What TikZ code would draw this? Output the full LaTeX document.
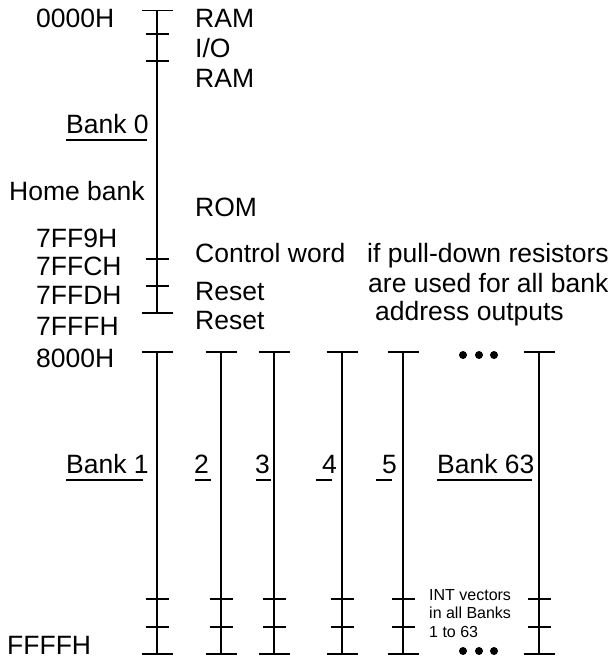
\documentclass[tikz,border=0pt]{standalone}
\usepackage{fontspec}
\setmainfont{Liberation Sans}
\usepackage{tikz}
\usetikzlibrary{positioning, calc}

\tikzset{
  lbl/.style={anchor=base west, inner sep=0pt, font=\fontsize{26.5}{29}\selectfont},
  smalllbl/.style={anchor=base west, inner sep=0pt, font=\fontsize{16}{18.5}\selectfont},
  bar/.style={line width=1.4pt},
  uline/.style={line width=1.2pt},
}

\begin{document}
\begin{tikzpicture}[x=1pt, y=-1pt]
  \useasboundingbox (0,0) rectangle (612,659);

  % Bank 0 (home bank)
  \draw[bar] (157,10.7) -- (157,313);
  \draw[bar] (141.5,10.7) -- (172.5,10.7);
  \draw[bar] (145.5,34) -- (168.5,34);
  \draw[bar] (145.5,61) -- (168.5,61);
  \draw[bar] (145.5,259) -- (168.5,259);
  \draw[bar] (145.5,286) -- (168.5,286);
  \draw[bar] (141.5,313) -- (172.5,313);

  \node[lbl] (a0000) at (36,27) {0000H};
  \node[lbl] (ram1) at (195,27) {RAM};
  \node[lbl] (io) at (195,57) {I/O};
  \node[lbl] (ram2) at (195,87) {RAM};
  \node[lbl] (bank0) at (66,133) {Bank 0};
  \draw[uline] (66,140) -- (147,140);
  \node[lbl] (home) at (9,200) {Home bank};
  \node[lbl] (rom) at (195,216) {ROM};
  \node[lbl] (a7ff9) at (36,247) {7FF9H};
  \node[lbl] (ctrl) at (195,262) {Control word};
  \node[lbl] (a7ffc) at (36,275) {7FFCH};
  \node[lbl] (reset1) at (195,300) {Reset};
  \node[lbl] (a7ffd) at (36,304) {7FFDH};
  \node[lbl] (reset2) at (195,329) {Reset};
  \node[lbl] (a7fff) at (36,335) {7FFFH};

  % Note on the pull-down resistors
  \node[lbl] (note1) at (367,262) {if pull-down resistors};
  \node[lbl] (note2) at (368,292) {are used for all bank};
  \node[lbl] (note3) at (375,320) {address outputs};

  % Banks 1 to 63
  \foreach \x in {157,221,274,342,403,539} {
    \draw[bar] (\x,352) -- (\x,654);
    \draw[bar] (\x-15.5,352) -- (\x+15.5,352);
    \draw[bar] (\x-11.5,599) -- (\x+11.5,599);
    \draw[bar] (\x-11.5,627) -- (\x+11.5,627);
    \draw[bar] (\x-15.5,654) -- (\x+15.5,654);
  }

  \node[lbl] (a8000) at (36,367) {8000H};
  \node[lbl] (affff) at (7,654) {FFFFH};

  \node[lbl] (bank1) at (66,473) {Bank 1};
  \draw[uline] (66,480) -- (143,480);
  \node[lbl] (bank2) at (194,473) {2};
  \draw[uline] (195,480) -- (211,480);
  \node[lbl] (bank3) at (255,473) {3};
  \draw[uline] (256,480) -- (271,480);
  \node[lbl] (bank4) at (322,473) {4};
  \draw[uline] (316,480) -- (332,480);
  \node[lbl] (bank5) at (382,473) {5};
  \draw[uline] (376,480) -- (392,480);
  \node[lbl] (bank63) at (437,473) {Bank 63};
  \draw[uline] (437,480) -- (532,480);

  % dots for the banks left out
  \fill (463,355) circle (4) (479,355) circle (4) (494,355) circle (4);
  \fill (463,651) circle (4) (479,651) circle (4) (494,651) circle (4);

  \node[smalllbl] (int1) at (429,600) {INT vectors};
  \node[smalllbl] (int2) at (429,618) {in all Banks};
  \node[smalllbl] (int3) at (429,637) {1 to 63};
\end{tikzpicture}
\end{document}
